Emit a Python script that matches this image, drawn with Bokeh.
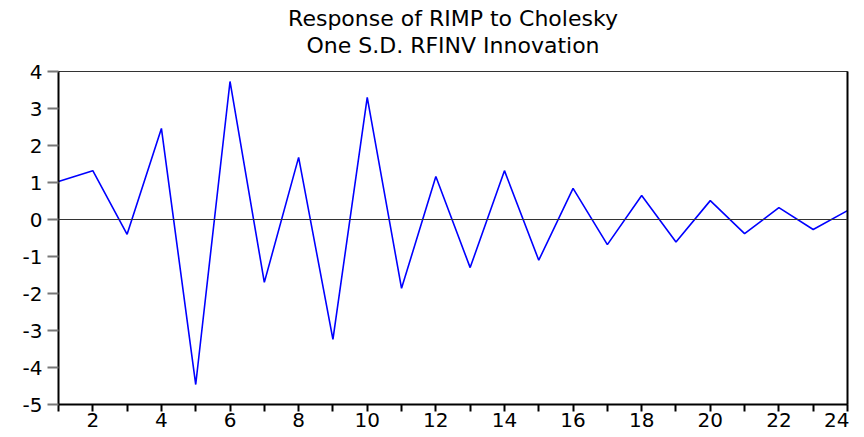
from bokeh.plotting import figure
from bokeh.models import FixedTicker, Range1d, LinearAxis, Title, Span
from bokeh.embed import file_html
from bokeh.resources import INLINE

periods = list(range(1, 25))
response = [1.03, 1.32, -0.40, 2.46, -4.46, 3.73, -1.70, 1.68, -3.24, 3.30,
            -1.86, 1.16, -1.30, 1.32, -1.10, 0.84, -0.68, 0.65, -0.61, 0.51,
            -0.38, 0.32, -0.27, 0.24]
title_line1 = "Response of RIMP to Cholesky"
title_line2 = "One S.D. RFINV Innovation"
x_major = [2, 4, 6, 8, 10, 12, 14, 16, 18, 20, 22, 24]
x_minor = [1, 3, 5, 7, 9, 11, 13, 15, 17, 19, 21, 23]
y_ticks = [-5, -4, -3, -2, -1, 0, 1, 2, 3, 4]

FONT = "DejaVu Sans"

p = figure(frame_width=789, frame_height=333, output_backend="svg", toolbar_location=None,
           title=None, x_range=Range1d(1, 24), y_range=Range1d(-5, 4),
           min_border_left=58, min_border_right=2, min_border_top=71,
           min_border_bottom=32)

p.add_layout(Span(location=0, dimension="width", line_color="#333333", line_width=1))
p.line(periods, response, line_color="#0000FF", line_width=1.6)

p.xgrid.visible = False
p.ygrid.visible = False
p.outline_line_color = "#333333"
p.outline_line_width = 1

xa = p.xaxis[0]
xa.ticker = FixedTicker(ticks=x_major, minor_ticks=x_minor)
xa.axis_line_width = 2
xa.axis_line_color = "black"
xa.major_tick_in = 0
xa.major_tick_out = 7
xa.minor_tick_in = 0
xa.minor_tick_out = 7
xa.major_tick_line_color = "black"
xa.minor_tick_line_color = "black"
xa.major_tick_line_width = 2
xa.minor_tick_line_width = 2
xa.major_label_text_font = FONT
xa.major_label_text_font_size = "20px"
xa.major_label_text_color = "black"
xa.major_label_standoff = 1

ya = p.yaxis[0]
ya.ticker = FixedTicker(ticks=y_ticks)
ya.major_label_overrides = {t: str(t) for t in y_ticks}
ya.axis_line_width = 2
ya.axis_line_color = "black"
ya.major_tick_in = 0
ya.major_tick_out = 11
ya.major_tick_line_color = "#777777"
ya.major_tick_line_width = 2
ya.minor_tick_line_color = None
ya.major_label_text_font = FONT
ya.major_label_text_font_size = "20px"
ya.major_label_text_color = "black"
ya.major_label_standoff = 5

ra = LinearAxis(ticker=FixedTicker(ticks=[]), axis_line_width=2, axis_line_color="black",
                major_tick_line_color=None, minor_tick_line_color=None)
p.add_layout(ra, "right")

# small empty spacer between the frame and the two title lines
p.add_layout(Title(text=" ", align="center", text_font=FONT,
                   text_font_size="1px", standoff=11), "above")
p.add_layout(Title(text=title_line2, align="center", text_font=FONT,
                   text_font_size="22px", text_font_style="normal",
                   text_color="black", standoff=0), "above")
p.add_layout(Title(text=title_line1, align="center", text_font=FONT,
                   text_font_size="22px", text_font_style="normal",
                   text_color="black", standoff=0), "above")

open("out.html", "w").write(file_html(p, INLINE))
